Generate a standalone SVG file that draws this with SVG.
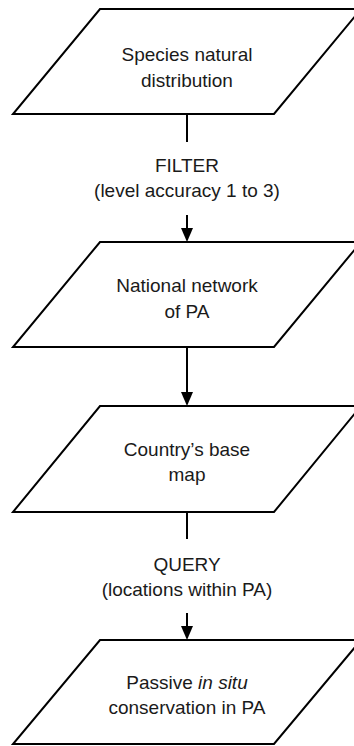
<svg xmlns="http://www.w3.org/2000/svg" width="354" height="746" viewBox="0 0 354 746">
<style>
.shape{fill:#fff;stroke:#000;stroke-width:2;stroke-linejoin:miter}
.conn{stroke:#000;stroke-width:2;fill:none}
.head{fill:#000}
text{font-family:"Liberation Sans",Arial,sans-serif;font-size:19px;fill:#1a1a1a;text-anchor:middle}
</style>
<rect width="354" height="746" fill="#fff"/>
<g id="connectors">
<line class="conn" x1="187" y1="114" x2="187" y2="142"/>
<line class="conn" x1="187" y1="215" x2="187" y2="229"/>
<path class="head" d="M181,228 L193,228 L187,242 Z"/>
<line class="conn" x1="187" y1="347" x2="187" y2="393"/>
<path class="head" d="M181,392 L193,392 L187,406 Z"/>
<line class="conn" x1="187" y1="512" x2="187" y2="539"/>
<line class="conn" x1="187" y1="613" x2="187" y2="627"/>
<path class="head" d="M181,626 L193,626 L187,640 Z"/>
</g>
<g id="label-filter">
<text x="187" y="172">FILTER</text>
<text x="187" y="197">(level accuracy 1 to 3)</text>
</g>
<g id="label-query">
<text x="187" y="571">QUERY</text>
<text x="187" y="596">(locations within PA)</text>
</g>
<g id="node-species">
<polygon class="shape" points="100,9 361,9 274,114 13,114"/>
<text x="187" y="61">Species natural</text>
<text x="187" y="87">distribution</text>
</g>
<g id="node-national">
<polygon class="shape" points="100,242 361,242 274,347 13,347"/>
<text x="187" y="292">National network</text>
<text x="187" y="318">of PA</text>
</g>
<g id="node-country">
<polygon class="shape" points="100,406 361,406 274,512 13,512"/>
<text x="187" y="456">Country’s base</text>
<text x="187" y="481">map</text>
</g>
<g id="node-passive">
<polygon class="shape" points="100,640 361,640 274,744 13,744"/>
<text x="187" y="689">Passive <tspan font-style="italic">in situ</tspan></text>
<text x="187" y="714">conservation in PA</text>
</g>
</svg>
